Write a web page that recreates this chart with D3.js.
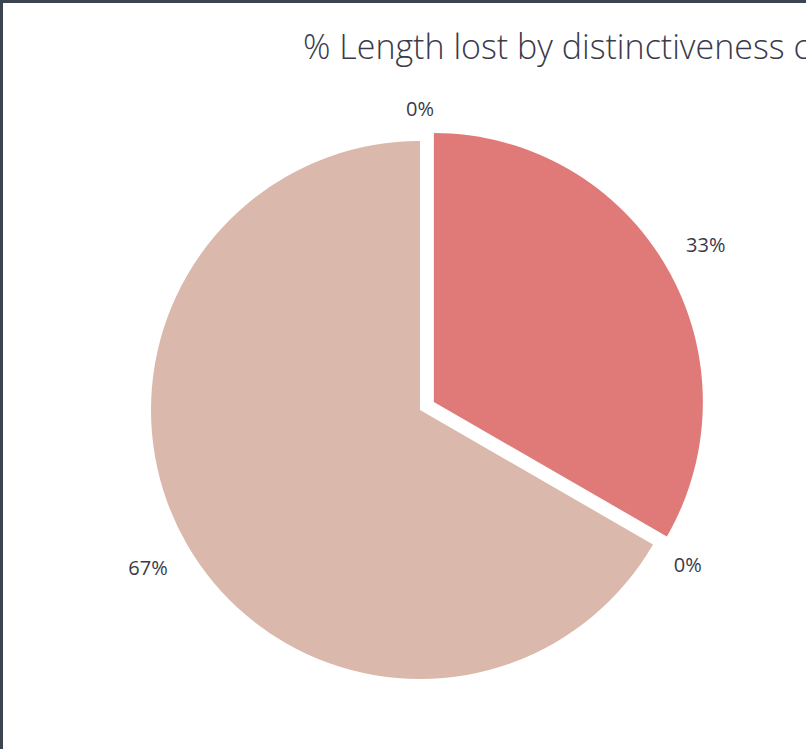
<!DOCTYPE html>
<html>
<head>
<meta charset="utf-8">
<script src="https://cdn.jsdelivr.net/npm/d3@7"></script>
<style>
  html, body { margin: 0; padding: 0; background: #ffffff; }
  svg { display: block; }
</style>
</head>
<body>
<script>
// ---- data ----
const title = "% Length lost by distinctiveness category";
const categories = ["Very High", "High", "Medium", "Low"];
const values = [0, 33.33, 0, 66.67];
const valueLabels = ["0%", "33%", "0%", "67%"];
const colors = ["#8e4b4b", "#e07a78", "#c9a090", "#dbb8ac"];
const exploded = [false, true, false, false];

// ---- layout ----
const W = 806, H = 749;
const cx = 420, cy = 410, r = 269, explodeDist = 16;
const fontFam = "'Open Sans', 'Noto Sans', sans-serif";
const textColor = "#3a3a4a";

const svg = d3.select("body").append("svg")
  .attr("width", W).attr("height", H);

svg.append("rect").attr("x", 0).attr("y", 0).attr("width", W).attr("height", H).attr("fill", "#fff");

// border (only left & top visible in crop)
svg.append("path")
  .attr("d", `M1.5,${H} L1.5,1.5 L${W},1.5`)
  .attr("fill", "none").attr("stroke", "#3c4452").attr("stroke-width", 3);

svg.append("text")
  .attr("x", 303).attr("y", 59)
  .attr("font-family", fontFam).attr("font-weight", 300)
  .attr("font-size", 34).attr("fill", textColor)
  .text(title);

const pie = d3.pie().sort(null).value(d => d)(values);
const arc = d3.arc().innerRadius(0).outerRadius(r);

const g = svg.append("g").attr("transform", `translate(${cx},${cy})`);

g.selectAll("path.slice").data(pie).join("path")
  .attr("class", "slice")
  .attr("d", arc)
  .attr("fill", (d, i) => colors[i])
  .attr("transform", (d, i) => {
    if (!exploded[i]) return null;
    const a = (d.startAngle + d.endAngle) / 2;
    return `translate(${Math.sin(a) * explodeDist},${-Math.cos(a) * explodeDist})`;
  });

// labels
const fs = 20;
const labels = g.selectAll("text.lbl").data(pie).join("text")
  .attr("class", "lbl")
  .attr("font-family", fontFam).attr("font-size", fs)
  .attr("fill", textColor)
  .attr("text-anchor", "middle")
  .attr("dominant-baseline", "central")
  .text((d, i) => valueLabels[i]);

labels.each(function(d, i) {
  const a = (d.startAngle + d.endAngle) / 2;
  const w = this.getComputedTextLength();
  const h = fs * 1.0;
  const off = exploded[i] ? explodeDist : 0;
  const dist = r + off + 23 + Math.abs(Math.sin(a)) * w / 2 + Math.abs(Math.cos(a)) * h / 2;
  d3.select(this)
    .attr("x", Math.sin(a) * dist)
    .attr("y", -Math.cos(a) * dist);
});
</script>
</body>
</html>
